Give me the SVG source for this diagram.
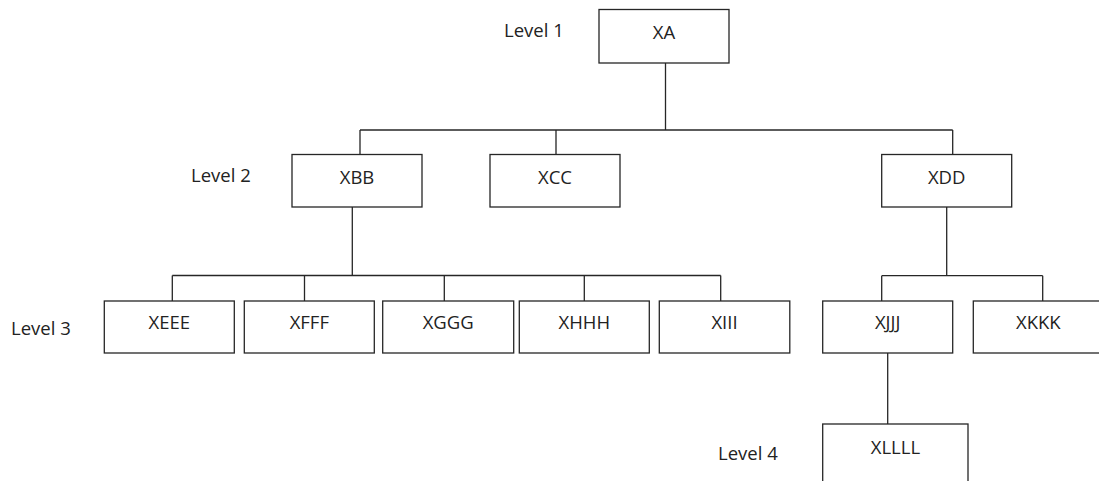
<svg xmlns="http://www.w3.org/2000/svg" width="1099" height="481" viewBox="0 0 1099 481">
  <style>
    .box rect { fill: #ffffff; stroke: #262626; stroke-width: 1.3; }
    .box text, .level { font-family: "Open Sans", "Liberation Sans", sans-serif; font-size: 18.5px; fill: #222222; }
    .box text { text-anchor: middle; }
    #connectors path { fill: none; stroke: #262626; stroke-width: 1.3; }
  </style>
  <rect width="1099" height="481" fill="#ffffff"/>

  <!-- level captions -->
  <g id="levels">
    <text class="level" x="504" y="37">Level 1</text>
    <text class="level" x="191" y="182">Level 2</text>
    <text class="level" x="11" y="335">Level 3</text>
    <text class="level" x="718" y="460">Level 4</text>
  </g>

  <!-- tree connectors -->
  <g id="connectors">
    <path d="M665.5 63 V130"/>
    <path d="M360 130 H952.7"/>
    <path d="M360 130 V154.5 M556 130 V154.5 M952.7 130 V154.5"/>
    <path d="M352.3 207 V275.5"/>
    <path d="M172.3 275.5 H720.7"/>
    <path d="M172.3 275.5 V301 M304.5 275.5 V301 M444.3 275.5 V301 M584.3 275.5 V301 M720.7 275.5 V301"/>
    <path d="M946.7 207 V275.7"/>
    <path d="M881.7 275.7 H1042.7"/>
    <path d="M881.7 275.7 V301 M1042.7 275.7 V301"/>
    <path d="M887.7 353 V424"/>
  </g>

  <!-- level 1 -->
  <g id="XA" class="box"><rect x="599" y="9.5" width="130" height="53.5"/><text x="664" y="38.5">XA</text></g>

  <!-- level 2 -->
  <g id="XBB" class="box"><rect x="292" y="154.5" width="130" height="52.5"/><text x="357" y="183.5">XBB</text></g>
  <g id="XCC" class="box"><rect x="490" y="154.5" width="130" height="52.5"/><text x="555" y="183.5">XCC</text></g>
  <g id="XDD" class="box"><rect x="881.7" y="154.5" width="130" height="52.5"/><text x="946.7" y="183.5">XDD</text></g>

  <!-- level 3 -->
  <g id="XEEE" class="box"><rect x="104.3" y="301" width="130" height="52"/><text x="169.3" y="329">XEEE</text></g>
  <g id="XFFF" class="box"><rect x="244.3" y="301" width="130" height="52"/><text x="309.3" y="329">XFFF</text></g>
  <g id="XGGG" class="box"><rect x="382.7" y="301" width="131" height="52"/><text x="448.2" y="329">XGGG</text></g>
  <g id="XHHH" class="box"><rect x="519.3" y="301" width="130" height="52"/><text x="584.3" y="329">XHHH</text></g>
  <g id="XIII" class="box"><rect x="659.3" y="301" width="130.5" height="52"/><text x="724.5" y="329">XIII</text></g>
  <g id="XJJJ" class="box"><rect x="822.7" y="301" width="130" height="52"/><text x="887.7" y="329">XJJJ</text></g>
  <g id="XKKK" class="box"><rect x="973.3" y="301" width="130" height="52"/><text x="1038.3" y="329">XKKK</text></g>

  <!-- level 4 -->
  <g id="XLLLL" class="box"><rect x="822.7" y="424" width="145.3" height="70"/><text x="895.4" y="454">XLLLL</text></g>
</svg>
